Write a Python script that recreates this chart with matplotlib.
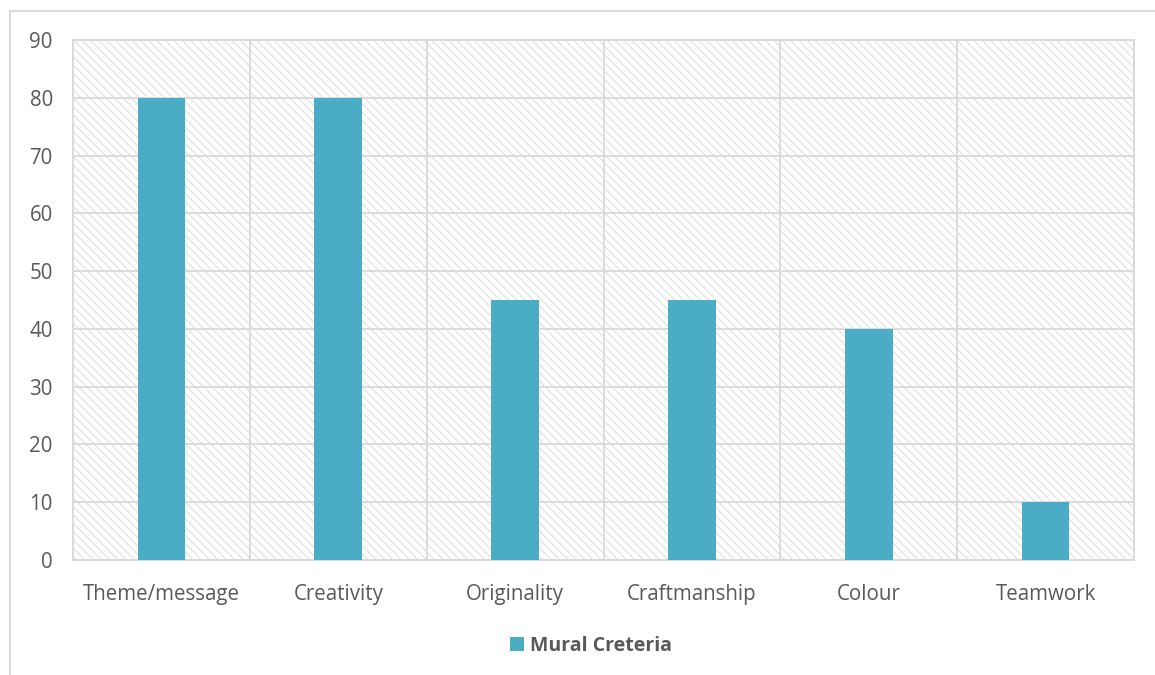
import matplotlib.pyplot as plt
import matplotlib.patches as patches
from matplotlib.lines import Line2D
import numpy as np

# Chart data
criteria = ['Theme/message', 'Creativity', 'Originality', 'Craftmanship', 'Colour', 'Teamwork']
scores = [80, 80, 45, 45, 40, 10]
series_name = 'Mural Creteria'

bar_color = '#4BACC6'
grid_color = '#D9D9D9'
text_color = '#595959'

plt.rcParams['font.family'] = ['Open Sans', 'DejaVu Sans']
plt.rcParams['hatch.linewidth'] = 0.7

fig = plt.figure(figsize=(11.55, 6.75), dpi=100)
ax = fig.add_axes([73 / 1155, 1 - 560 / 675, (1134 - 73) / 1155, (560 - 40) / 675])

# Hatched background of the plot area
bg = patches.Rectangle((0, 0), 1, 1, transform=ax.transAxes, facecolor='white',
                       edgecolor='#DCDCDC', linewidth=0, hatch='\\\\\\\\', zorder=0)
ax.add_patch(bg)

x = np.arange(len(criteria))
ax.bar(x, scores, width=0.27, color=bar_color, zorder=3, label=series_name)

ax.set_xlim(-0.5, len(criteria) - 0.5)
ax.set_ylim(0, 90)
ax.set_yticks(np.arange(0, 91, 10))
ax.set_xticks(x)
ax.set_xticklabels(criteria)
ax.set_xticks(np.arange(-0.5, len(criteria), 1), minor=True)

ax.grid(axis='y', which='major', color=grid_color, linewidth=1.3, zorder=1)
ax.grid(axis='x', which='minor', color=grid_color, linewidth=1.3, zorder=1)
ax.set_axisbelow(True)

for s in ax.spines.values():
    s.set_color(grid_color)
    s.set_linewidth(1.3)

ax.tick_params(axis='both', which='both', length=0, labelsize=14.8, labelcolor=text_color)
ax.tick_params(axis='y', pad=14.5)
ax.tick_params(axis='x', pad=17)

# Legend below the plot
leg = fig.legend(loc='center', bbox_to_anchor=(591 / 1155, 1 - 646 / 675), frameon=False,
                 handlelength=0.75, handleheight=0.75, handletextpad=0.3,
                 prop={'size': 14, 'weight': 'bold'})
for t in leg.get_texts():
    t.set_color(text_color)

# Chart area border
fig.add_artist(Line2D([10 / 1155, 1], [1 - 11 / 675, 1 - 11 / 675], color=grid_color, linewidth=1.3))
fig.add_artist(Line2D([10 / 1155, 10 / 1155], [0, 1 - 11 / 675], color=grid_color, linewidth=1.3))

fig.savefig('out.png', dpi=100)
